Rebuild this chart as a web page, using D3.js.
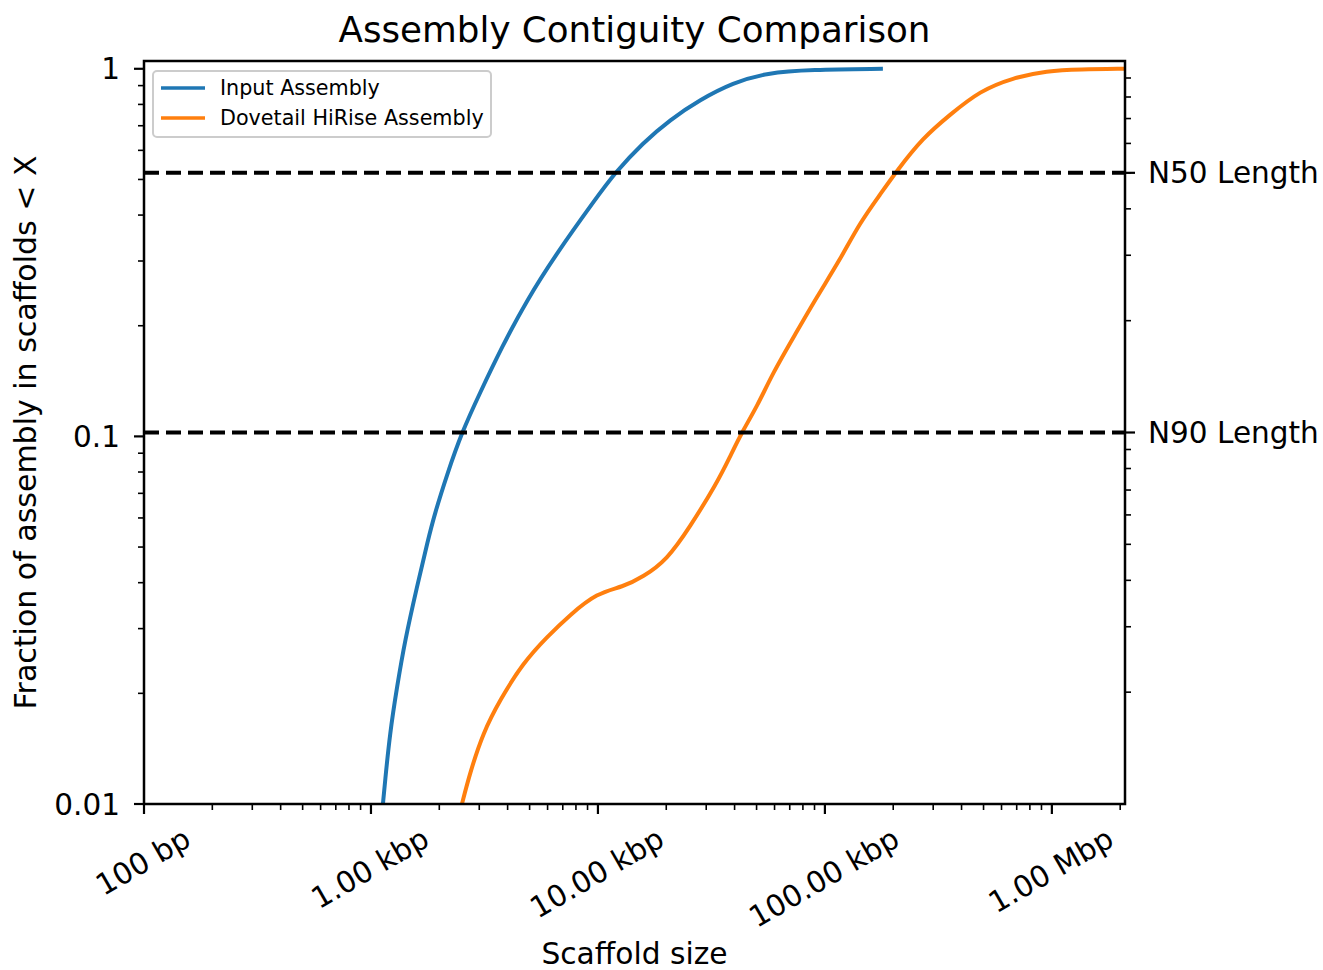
<!DOCTYPE html>
<html>
<head>
<meta charset="utf-8">
<script src="https://cdn.jsdelivr.net/npm/d3@7"></script>
<style>
  html, body { margin: 0; padding: 0; background: #fff; }
  text { font-family: "DejaVu Sans", sans-serif; fill: #000; }
</style>
</head>
<body>
<svg id="chart" width="1323" height="970"></svg>
<script>
// ---------- data ----------
const inputSize = [1129, 1152, 1212, 1302, 1412, 1595, 1783, 1914, 2161, 2517, 3021, 3777, 4867, 6597, 9700, 11880, 15790, 20760, 28130, 39330, 55530, 85890, 180100];
const inputFrac = [0.01, 0.01141, 0.0156, 0.0208, 0.0279, 0.0390, 0.0523, 0.0619, 0.0786, 0.1028, 0.1313, 0.1752, 0.2351, 0.3157, 0.4400, 0.5212, 0.6290, 0.7265, 0.8234, 0.9160, 0.9752, 0.995, 1.0];

const hiriseSize = [2517, 2731, 3114, 3701, 4674, 5961, 7527, 9900, 12890, 15790, 20140, 25430, 33440, 38150, 43100, 50160, 59020, 73770, 92200, 116500, 142600, 174700, 207600, 270200, 355400, 481800, 673300, 950600, 1328000, 2100000];
const hiriseFrac = [0.01, 0.01215, 0.0156, 0.01919, 0.02419, 0.02848, 0.03268, 0.03751, 0.03896, 0.04146, 0.04612, 0.05671, 0.07469, 0.08793, 0.1028, 0.1203, 0.1489, 0.1889, 0.2397, 0.3021, 0.3811, 0.4541, 0.5280, 0.6490, 0.7496, 0.8711, 0.9452, 0.9876, 0.997, 1.0];

const seriesNames = ["Input Assembly", "Dovetail HiRise Assembly"];
const seriesColors = ["#1f77b4", "#ff7f0e"];

const xTickValues = [100, 1000, 10000, 100000, 1000000];
const xTickLabels = ["100 bp", "1.00 kbp", "10.00 kbp", "100.00 kbp", "1.00 Mbp"];
const yTickValues = [0.01, 0.1, 1];
const yTickLabels = ["0.01", "0.1", "1"];
const refFracs = [0.5, 0.1];
const refLabels = ["N50 Length", "N90 Length"];

// ---------- layout ----------
const svg = d3.select("#chart");
const L = 144, R = 1125, T = 61, B = 804;

const x = d3.scaleLog().domain([100, 2.1e6]).range([L, R]);
const y = d3.scaleLog().domain([0.01, 1.05]).range([B, T]);
const yR = d3.scaleLog().domain([0.01, 1]).range([B, T]);

function minorTicks(lo, hi) {
  const out = [];
  for (let e = Math.floor(Math.log10(lo)); e <= Math.ceil(Math.log10(hi)); e++) {
    for (let m = 2; m <= 9; m++) {
      const v = m * Math.pow(10, e);
      if (v >= lo && v <= hi) out.push(v);
    }
  }
  return out;
}

// ---------- curves ----------
const line = d3.line()
  .x(d => x(d[0]))
  .y(d => y(d[1]))
  .curve(d3.curveBasis);

svg.append("clipPath").attr("id", "clip")
  .append("rect").attr("x", L).attr("y", T).attr("width", R - L).attr("height", B - T);

const series = [
  d3.zip(inputSize, inputFrac),
  d3.zip(hiriseSize, hiriseFrac)
];
const gLines = svg.append("g").attr("clip-path", "url(#clip)");
series.forEach((s, i) => {
  gLines.append("path")
    .attr("d", line(s))
    .attr("fill", "none")
    .attr("stroke", seriesColors[i])
    .attr("stroke-width", 4)
    .attr("stroke-linejoin", "round");
});

// ---------- reference dashed lines ----------
refFracs.forEach(f => {
  svg.append("line")
    .attr("x1", L).attr("x2", R)
    .attr("y1", yR(f)).attr("y2", yR(f))
    .attr("stroke", "#000")
    .attr("stroke-width", 4)
    .attr("stroke-dasharray", "15,7");
});

// ---------- axes ----------
const tickColor = "#000";
const tickFont = 29.5;
// x axis
const gx = svg.append("g");
minorTicks(100, 2.1e6).forEach(v => {
  gx.append("line").attr("x1", x(v)).attr("x2", x(v)).attr("y1", B).attr("y2", B + 6)
    .attr("stroke", tickColor).attr("stroke-width", 1.6);
});
xTickValues.forEach((v, i) => {
  gx.append("line").attr("x1", x(v)).attr("x2", x(v)).attr("y1", B).attr("y2", B + 10)
    .attr("stroke", tickColor).attr("stroke-width", 2.2);
  const t = gx.append("text")
    .attr("font-size", tickFont)
    .attr("text-anchor", "middle")
    .attr("dy", "0.346em")
    .text(xTickLabels[i]);
  const w = t.node().getComputedTextLength();
  const h = tickFont * 1.164;
  const bh = w * 0.5 + h * 0.866;
  const top = 821;
  t.attr("transform", `translate(${x(v) - 1},${top + bh / 2}) rotate(-30)`);
});

// left y axis
const gy = svg.append("g");
minorTicks(0.01, 1.05).forEach(v => {
  gy.append("line").attr("x1", L - 6).attr("x2", L).attr("y1", y(v)).attr("y2", y(v))
    .attr("stroke", tickColor).attr("stroke-width", 1.6);
});
yTickValues.forEach((v, i) => {
  gy.append("line").attr("x1", L - 10).attr("x2", L).attr("y1", y(v)).attr("y2", y(v))
    .attr("stroke", tickColor).attr("stroke-width", 2.2);
  gy.append("text")
    .attr("x", L - 24).attr("y", y(v)).attr("dy", "0.36em")
    .attr("text-anchor", "end")
    .attr("font-size", tickFont)
    .text(yTickLabels[i]);
});

// right y axis
const gr = svg.append("g");
minorTicks(0.01, 1).forEach(v => {
  gr.append("line").attr("x1", R).attr("x2", R + 6).attr("y1", yR(v)).attr("y2", yR(v))
    .attr("stroke", tickColor).attr("stroke-width", 1.6);
});
refFracs.forEach((f, i) => {
  gr.append("line").attr("x1", R).attr("x2", R + 10).attr("y1", yR(f)).attr("y2", yR(f))
    .attr("stroke", tickColor).attr("stroke-width", 2.2);
  gr.append("text")
    .attr("x", R + 23).attr("y", yR(f)).attr("dy", "0.36em")
    .attr("text-anchor", "start")
    .attr("font-size", tickFont)
    .text(refLabels[i]);
});

// frame
svg.append("rect")
  .attr("x", L).attr("y", T).attr("width", R - L).attr("height", B - T)
  .attr("fill", "none").attr("stroke", "#000").attr("stroke-width", 2.5);

// ---------- titles ----------
svg.append("text")
  .attr("x", (L + R) / 2).attr("y", 42)
  .attr("text-anchor", "middle")
  .attr("font-size", 35.7)
  .text("Assembly Contiguity Comparison");

svg.append("text")
  .attr("x", (L + R) / 2).attr("y", 964)
  .attr("text-anchor", "middle")
  .attr("font-size", 29.7)
  .text("Scaffold size");

svg.append("text")
  .attr("transform", `translate(36,${(T + B) / 2}) rotate(-90)`)
  .attr("text-anchor", "middle")
  .attr("font-size", 30)
  .text("Fraction of assembly in scaffolds < X");

// ---------- legend ----------
const lg = svg.append("g");
lg.append("rect")
  .attr("x", 153).attr("y", 71).attr("width", 338).attr("height", 66)
  .attr("rx", 4).attr("ry", 4)
  .attr("fill", "#fff").attr("fill-opacity", 0.8)
  .attr("stroke", "#cccccc").attr("stroke-width", 2);
seriesNames.forEach((name, i) => {
  const cy = 88 + i * 30;
  lg.append("line").attr("x1", 161).attr("x2", 205).attr("y1", cy).attr("y2", cy)
    .attr("stroke", seriesColors[i]).attr("stroke-width", 3.5);
  lg.append("text").attr("x", 220).attr("y", cy).attr("dy", "0.36em")
    .attr("font-size", 20.7).text(name);
});
</script>
</body>
</html>
